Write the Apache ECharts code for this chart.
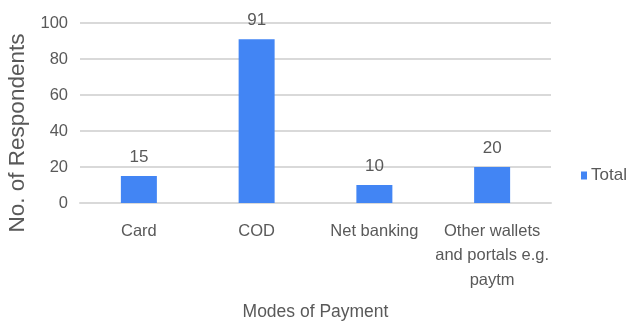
<!DOCTYPE html>
<html>
<head>
<meta charset="utf-8">
<script src="https://cdn.jsdelivr.net/npm/echarts@6/dist/echarts.min.js"></script>
<style>
html,body{margin:0;padding:0;background:#fff;}
#chart{width:639px;height:322px;}
</style>
</head>
<body>
<div id="chart"></div>
<script>
const categories = ["Card", "COD", "Net banking", "Other wallets\nand portals e.g.\npaytm"];
const totalValues = [15, 91, 10, 20];
const yTicks = [0, 20, 40, 60, 80, 100];
const seriesName = "Total";
const xAxisTitle = "Modes of Payment";
const yAxisTitle = "No. of Respondents";

const FONT = '"Liberation Sans", Arial, sans-serif';
const TXT = '#595959';

const chart = echarts.init(document.getElementById('chart'), null, {renderer: 'canvas'});
chart.setOption({
  animation: false,
  backgroundColor: '#ffffff',
  grid: {left: 80, right: 88, top: 23, bottom: 119, containLabel: false, outerBoundsMode: 'none'},
  legend: {
    data: [seriesName],
    left: 576, top: 162,
    icon: 'rect', itemWidth: 6, itemHeight: 8, itemGap: 5,
    textStyle: {color: TXT, fontFamily: FONT, fontSize: 17, padding: [0,0,0,-1]}
  },
  xAxis: {
    type: 'category',
    data: categories,
    name: xAxisTitle,
    nameLocation: 'middle',
    nameGap: 100,
    nameTextStyle: {color: TXT, fontFamily: FONT, fontSize: 17.5},
    axisLine: {show: true, lineStyle: {color: '#d9d9d9', width: 2}},
    axisTick: {show: false},
    axisLabel: {color: TXT, fontFamily: FONT, fontSize: 16.5, lineHeight: 24.5, margin: 16, interval: 0}
  },
  yAxis: {
    type: 'value',
    min: yTicks[0], max: yTicks[yTicks.length - 1], interval: 20,
    name: yAxisTitle,
    nameLocation: 'middle',
    nameGap: 41,
    nameTextStyle: {color: TXT, fontFamily: FONT, fontSize: 22.5, padding: [0, 40, 0, 0]},
    axisLine: {show: false},
    axisTick: {show: false},
    axisLabel: {color: TXT, fontFamily: FONT, fontSize: 16.5, margin: 12},
    splitLine: {lineStyle: {color: '#d9d9d9', width: 2}}
  },
  series: [{
    name: seriesName,
    type: 'bar',
    data: totalValues,
    barWidth: 36,
    itemStyle: {color: '#4285F4'},
    label: {show: true, position: 'top', distance: 10, color: TXT, fontFamily: FONT, fontSize: 17}
  }]
});
</script>
</body>
</html>
